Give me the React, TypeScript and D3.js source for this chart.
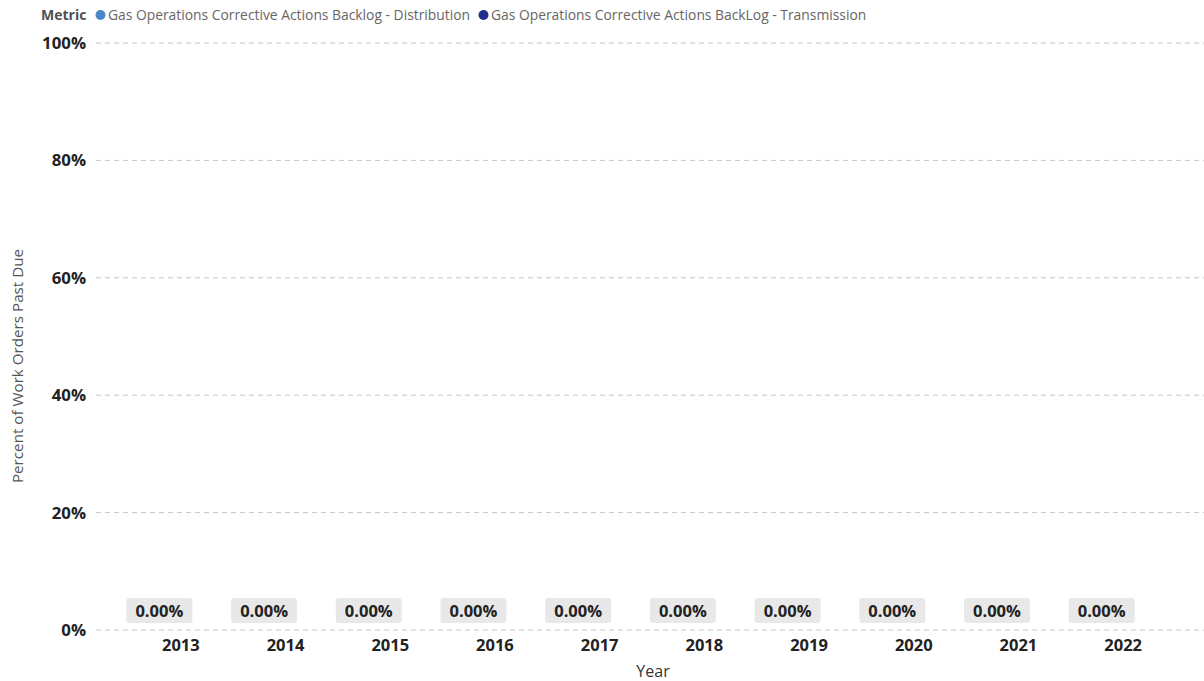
import React from "react";
import * as d3 from "d3";

const years = ["2013", "2014", "2015", "2016", "2017", "2018", "2019", "2020", "2021", "2022"];
const seriesNames = [
  "Gas Operations Corrective Actions Backlog - Distribution",
  "Gas Operations Corrective Actions BackLog - Transmission",
];
const seriesColors = ["#4a86c8", "#202f8a"];
const distributionValues = [0, 0, 0, 0, 0, 0, 0, 0, 0, 0];
const yTicks = [0, 0.2, 0.4, 0.6, 0.8, 1.0];

const W = 1204;
const H = 681;
const FONT = "'Segoe UI', 'Open Sans', sans-serif";

export default function App() {
  const x = d3.scaleBand<string>().domain(years).range([128.5, 1175.5]).paddingInner(0.18).paddingOuter(0.09);
  const inner = d3.scaleBand<string>().domain(seriesNames).range([0, x.bandwidth()]);
  const y = d3.scaleLinear().domain([0, 1]).range([630, 43]);
  const fmtTick = d3.format(".0%");
  const fmtVal = d3.format(".2%");

  return (
    <svg width={W} height={H} style={{ position: "absolute", left: 0, top: 0, background: "#fff" }} fontFamily={FONT}>
      {/* Legend */}
      <g>
        <text x={41} y={20} fontSize={14} fontWeight={700} fill="#505050">Metric</text>
        <circle cx={100.5} cy={15} r={5} fill={seriesColors[0]} />
        <text x={108} y={20} fontSize={13.85} fill="#666">{seriesNames[0]}</text>
        <circle cx={483.5} cy={15} r={5} fill={seriesColors[1]} />
        <text x={491} y={20} fontSize={13.85} fill="#666">{seriesNames[1]}</text>
      </g>
      {/* Grid + y ticks */}
      {yTicks.map((t) => (
        <g key={t}>
          <line x1={96} x2={W} y1={y(t)} y2={y(t)} stroke="#c6c6c6" strokeWidth={1} strokeDasharray="5,4" />
          <text x={86} y={y(t)} dy="0.36em" textAnchor="end" fontSize={16.8} fontWeight={700} fill="#222">{fmtTick(t)}</text>
        </g>
      ))}
      {/* Y axis title */}
      <text transform={`translate(23,${366}) rotate(-90)`} textAnchor="middle" fontSize={15.2} fill="#555">
        Percent of Work Orders Past Due
      </text>
      {/* Bars (zero height) and labels */}
      {years.map((yr, i) => {
        const v = distributionValues[i];
        const bx = (x(yr) ?? 0) + (inner(seriesNames[0]) ?? 0);
        const bw = inner.bandwidth();
        const cx = bx + bw / 2;
        const h = y(0) - y(v);
        return (
          <g key={yr}>
            <rect x={bx} y={y(v)} width={bw} height={h} fill={seriesColors[0]} />
            <rect x={cx - 33} y={y(v) - 32} width={66} height={25} rx={3} fill="#e8e8e8" />
            <text x={cx} y={y(v) - 19} dy="0.36em" textAnchor="middle" fontSize={16.5} fontWeight={700} fill="#222">
              {fmtVal(v)}
            </text>
            <text x={(x(yr) ?? 0) + x.bandwidth() / 2} y={645.5} dy="0.36em" textAnchor="middle" fontSize={16.5} fontWeight={700} fill="#222">
              {yr}
            </text>
          </g>
        );
      })}
      {/* X axis title */}
      <text x={653} y={671} dy="0.36em" textAnchor="middle" fontSize={16} fill="#333">Year</text>
    </svg>
  );
}
